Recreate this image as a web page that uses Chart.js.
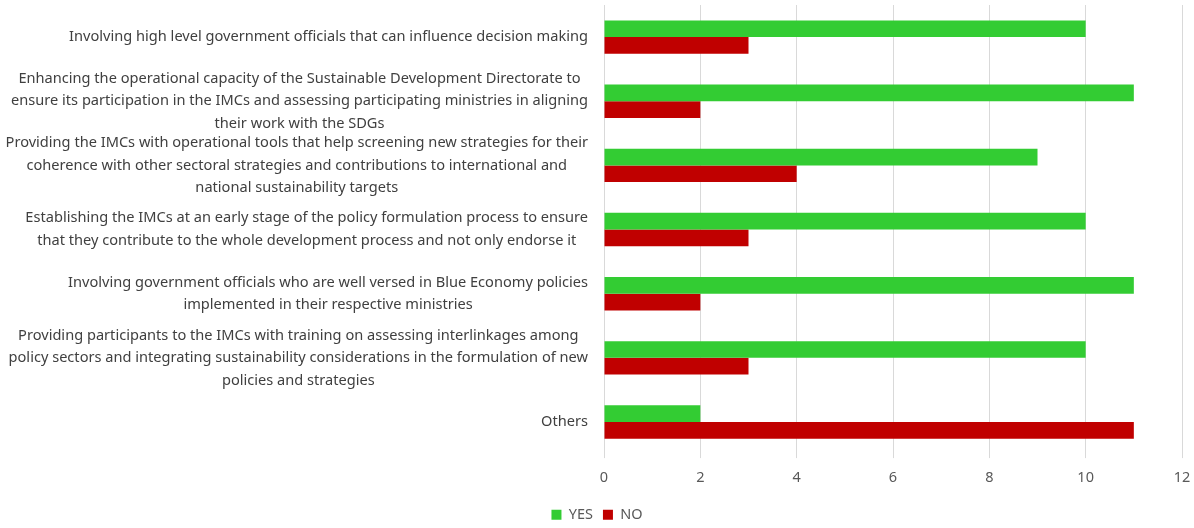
<!DOCTYPE html>
<html>
<head>
<meta charset="utf-8">
<script src="https://cdn.jsdelivr.net/npm/chart.js@4"></script>
<style>
    html, body { margin: 0; padding: 0; background: #fff; }
    #wrap { width: 1194px; height: 528px; position: relative; }
</style>
</head>
<body>
<div id="wrap"><canvas id="measures-chart"></canvas></div>
<script>
// category labels, already split in lines like in the original
const categories = [
    ['Involving high level government officials that can influence decision making'],
    ['Enhancing the operational capacity of the Sustainable Development Directorate to',
     'ensure its participation in the IMCs and assessing participating ministries in aligning',
     'their work with the SDGs'],
    ['Providing the IMCs with operational tools that help screening new strategies for their',
     'coherence with other sectoral strategies and contributions to international and',
     'national sustainability targets'],
    ['Establishing the IMCs at an early stage of the policy formulation process to ensure',
     'that they contribute to the whole development process and not only endorse it'],
    ['Involving government officials who are well versed in Blue Economy policies',
     'implemented in their respective ministries'],
    ['Providing participants to the IMCs with training on assessing interlinkages among',
     'policy sectors and integrating sustainability considerations in the formulation of new',
     'policies and strategies'],
    ['Others']
];
const yesValues = [10, 11, 9, 10, 11, 10, 2];
const noValues = [3, 2, 4, 3, 2, 3, 11];
const xTicks = [0, 2, 4, 6, 8, 10, 12];

const labelFont = '14.6px "Noto Sans"';
const lineHeight = 22.5;

// draws the y labels: each block centred on itself, block right aligned
const wrapLabels = {
    id: 'wrapLabels',
    afterDraw(chart) {
        const ctx = chart.ctx;
        const yScale = chart.scales.y;
        const right = chart.chartArea.left - 16;
        ctx.save();
        ctx.font = labelFont;
        ctx.fillStyle = '#404040';
        ctx.textAlign = 'center';
        ctx.textBaseline = 'middle';
        categories.forEach((lines, i) => {
            const cy = yScale.getPixelForValue(i);
            const w = Math.max(...lines.map(l => ctx.measureText(l).width));
            const cx = right - w / 2;
            lines.forEach((line, j) => {
                ctx.fillText(line, cx, cy + (j - (lines.length - 1) / 2) * lineHeight);
            });
        });
        ctx.restore();
    }
};

const ctx = document.getElementById('measures-chart');
new Chart(ctx, {
    type: 'bar',
    data: {
        labels: categories.map(c => c.join(' ')),
        datasets: [
            { label: 'YES', data: yesValues, backgroundColor: '#33cc33', categoryPercentage: 0.52, barPercentage: 1 },
            { label: 'NO', data: noValues, backgroundColor: '#c00000', categoryPercentage: 0.52, barPercentage: 1 }
        ]
    },
    options: {
        indexAxis: 'y',
        responsive: true,
        maintainAspectRatio: false,
        animation: false,
        layout: { padding: { top: 5, right: 0, bottom: -4 } },
        scales: {
            x: {
                min: 0,
                max: 12,
                afterBuildTicks: scale => { scale.ticks = xTicks.map(v => ({ value: v })); },
                afterFit: scale => { scale.paddingRight = 12; },
                grid: { color: '#d9d9d9', tickLength: 4 },
                border: { display: false },
                ticks: { color: '#595959', font: { family: 'Noto Sans', size: 14.5 }, padding: 11 }
            },
            y: {
                grid: { display: false },
                border: { display: false },
                ticks: { display: false },
                afterFit: scale => { scale.width = 604; }
            }
        },
        plugins: {
            legend: {
                position: 'bottom',
                labels: {
                    color: '#595959',
                    boxWidth: 10,
                    boxHeight: 10,
                    padding: 10,
                    font: { family: 'Noto Sans', size: 14.5 }
                }
            },
            tooltip: { enabled: false }
        }
    },
    plugins: [wrapLabels]
});
</script>
</body>
</html>
